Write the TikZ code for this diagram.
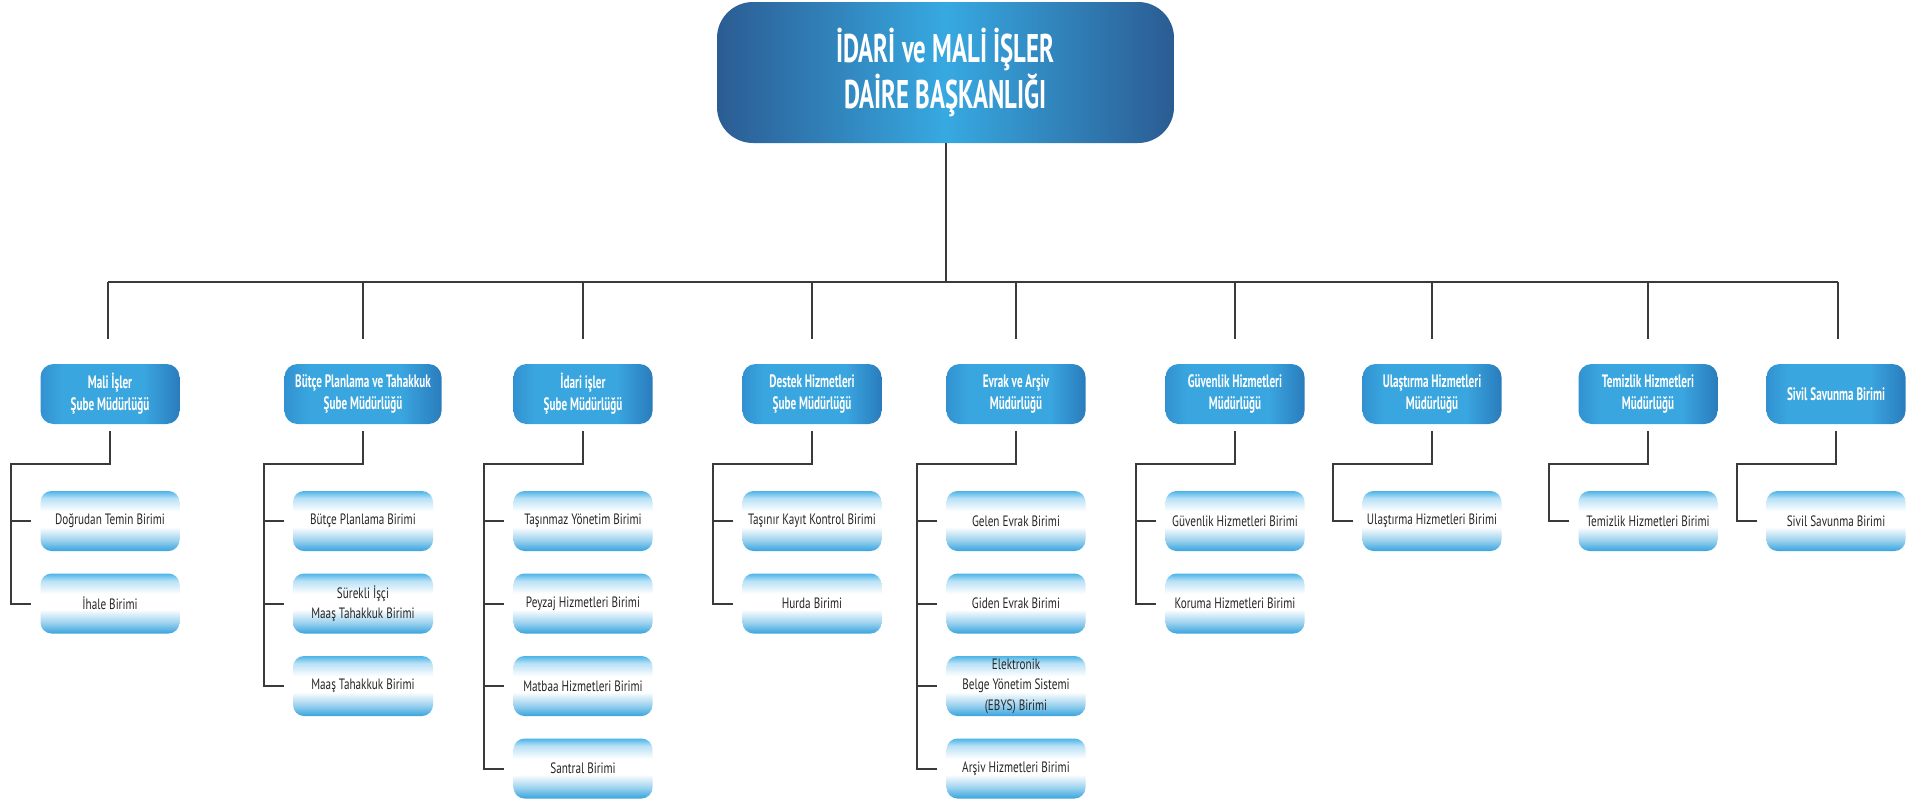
\documentclass[tikz,border=0pt]{standalone}
\usepackage{fontspec}
\setmainfont{PT Sans}
\newfontfamily\hfont{PT Sans}[FakeStretch=0.62]
\newfontfamily\lfont{PT Sans}[FakeStretch=0.745]
\usetikzlibrary{calc}
\definecolor{tdark}{HTML}{2B5C93}
\definecolor{tlight}{HTML}{37A9E1}
\definecolor{mleft}{HTML}{3292D1}
\definecolor{mmid}{HTML}{3AA6DF}
\definecolor{mright}{HTML}{2A7CBD}
\definecolor{ltop}{HTML}{4DB4E8}
\definecolor{lbot}{HTML}{38A4DE}
\colorlet{ltopf}{ltop!40!white}
\colorlet{lbotf}{lbot!50!white}
\definecolor{linec}{HTML}{3A3A3A}
\definecolor{leaftext}{HTML}{262626}
\pgfdeclarehorizontalshading{midshade}{100bp}{color(0bp)=(mleft); color(25bp)=(mleft); color(33bp)=(mmid); color(62bp)=(mmid); color(75bp)=(mright); color(100bp)=(mright)}
\pgfdeclareverticalshading{leafshade}{100bp}{color(0bp)=(lbot); color(25bp)=(lbot); color(34bp)=(lbotf); color(45bp)=(white); color(58bp)=(white); color(69bp)=(ltopf); color(75bp)=(ltop); color(100bp)=(ltop)}
\begin{document}
\begin{tikzpicture}[x=1pt,y=-1pt,
  conn/.style={draw=linec, line width=2pt},
  thin conn/.style={draw=linec, line width=1.6pt},
  topbox/.style={rectangle, rounded corners=36pt, minimum width=457pt, minimum height=141pt, inner sep=0pt, left color=tdark, right color=tdark, middle color=tlight, text=white, align=center, font=\hfont\bfseries\fontsize{40}{46}\selectfont},
  midbox/.style={rectangle, rounded corners=13pt, minimum width=139pt, minimum height=60pt, inner sep=0pt, shade, shading=midshade, text=white, align=center, font=\hfont\bfseries\fontsize{18}{22}\selectfont},
  leafbox/.style={rectangle, rounded corners=11pt, minimum width=139pt, minimum height=60pt, inner sep=0pt, shade, shading=leafshade, text=leaftext, align=center, font=\lfont\fontsize{15}{20.5}\selectfont},
]
\useasboundingbox[fill=white] (0,0) rectangle (1921,803);

% top
\node[topbox] (top) at (945.5,72.5) {İDARİ ve MALİ İŞLER\\DAİRE BAŞKANLIĞI};

% mid level
\node[midbox] (m1) at (110,394) {Mali İşler\\Şube Müdürlüğü};
\node[midbox, minimum width=157pt] (m2) at (363,394) {Bütçe Planlama ve Tahakkuk\\Şube Müdürlüğü};
\node[midbox] (m3) at (583,394) {İdari işler\\Şube Müdürlüğü};
\node[midbox] (m4) at (812,394) {Destek Hizmetleri\\Şube Müdürlüğü};
\node[midbox] (m5) at (1016,394) {Evrak ve Arşiv\\Müdürlüğü};
\node[midbox] (m6) at (1235,394) {Güvenlik Hizmetleri\\Müdürlüğü};
\node[midbox] (m7) at (1432,394) {Ulaştırma Hizmetleri\\Müdürlüğü};
\node[midbox] (m8) at (1648,394) {Temizlik Hizmetleri\\Müdürlüğü};
\node[midbox] (m9) at (1836,394) {Sivil Savunma Birimi};

% leaves
\node[leafbox] (l1a) at (110,521) {Doğrudan Temin Birimi};
\node[leafbox] (l1b) at (110,603.5) {İhale Birimi};

\node[leafbox, minimum width=140pt] (l2a) at (363,521) {Bütçe Planlama Birimi};
\node[leafbox, minimum width=140pt] (l2b) at (363,603.5) {Sürekli İşçi\\Maaş Tahakkuk Birimi};
\node[leafbox, minimum width=140pt] (l2c) at (363,686) {Maaş Tahakkuk Birimi};

\node[leafbox] (l3a) at (583,521) {Taşınmaz Yönetim Birimi};
\node[leafbox] (l3b) at (583,603.5) {Peyzaj Hizmetleri Birimi};
\node[leafbox] (l3c) at (583,686) {Matbaa Hizmetleri Birimi};
\node[leafbox] (l3d) at (583,768.5) {Santral Birimi};

\node[leafbox] (l4a) at (812,521) {Taşınır Kayıt Kontrol Birimi};
\node[leafbox] (l4b) at (812,603.5) {Hurda Birimi};

\node[leafbox] (l5a) at (1016,521) {Gelen Evrak Birimi};
\node[leafbox] (l5b) at (1016,603.5) {Giden Evrak Birimi};
\node[leafbox] (l5c) at (1016,686) {Elektronik\\Belge Yönetim Sistemi\\(EBYS) Birimi};
\node[leafbox] (l5d) at (1016,768.5) {Arşiv Hizmetleri Birimi};

\node[leafbox] (l6a) at (1235,521) {Güvenlik Hizmetleri Birimi};
\node[leafbox] (l6b) at (1235,603.5) {Koruma Hizmetleri Birimi};

\node[leafbox] (l7a) at (1432,521) {Ulaştırma Hizmetleri Birimi};
\node[leafbox] (l8a) at (1648,521) {Temizlik Hizmetleri Birimi};
\node[leafbox] (l9a) at (1836,521) {Sivil Savunma Birimi};

% top connectors
\coordinate (busL) at (108,282);
\coordinate (busR) at (1838,282);
\draw[conn] (top.south) -- (top.south |- busL);
\draw[conn] (busL) -- (busR);
\draw[thin conn] (busL) -- ++(0,57);
\draw[thin conn] (busR) -- ++(0,57);
\foreach \m in {m2,m3,m4,m5,m6,m7,m8}{
  \draw[thin conn] (\m.north |- busL) -- ++(0,57);
}

% branch connectors
\foreach \m/\last/\leaves in {m1/l1b/{l1a,l1b}, m2/l2c/{l2a,l2b,l2c}, m3/l3d/{l3a,l3b,l3c,l3d}, m4/l4b/{l4a,l4b}, m5/l5d/{l5a,l5b,l5c,l5d}, m6/l6b/{l6a,l6b}, m7/l7a/{l7a}, m8/l8a/{l8a}, m9/l9a/{l9a}}{
  \draw[conn] ($(\m.south)+(0,7)$) -- ($(\m.south)+(0,40)$) -| ($(\last.west)+(-29,0)$);
  \foreach \l in \leaves{
    \draw[conn] ($(\l.west)+(-30,0)$) -- ($(\l.west)+(-9,0)$);
  }
}
\end{tikzpicture}
\end{document}
